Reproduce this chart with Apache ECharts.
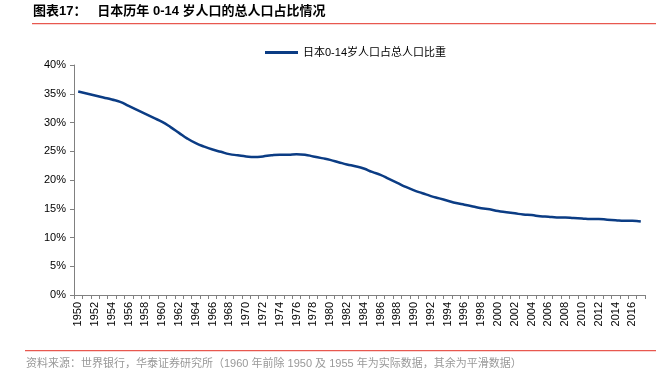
<!DOCTYPE html>
<html>
<head>
<meta charset="utf-8">
<script src="https://cdn.jsdelivr.net/npm/echarts@6/dist/echarts.min.js"></script>
<style>
  html, body { margin: 0; padding: 0; background: #fff; }
  #chart { width: 661px; height: 378px; }
</style>
</head>
<body>
<div id="chart"></div>
<script>
// 年份 1950-2017
var years = []
for (var y = 1950; y <= 2017; y++) years.push(String(y))

// 日本0-14岁人口占总人口比重 (%)
var shareValues = [
  35.4, 35.05, 34.7, 34.35, 34.0, 33.6, 32.9, 32.2, 31.5, 30.8,
  30.1, 29.2, 28.2, 27.2, 26.4, 25.8, 25.3, 24.9, 24.5, 24.3,
  24.1, 24.0, 24.1, 24.3, 24.4, 24.4, 24.5, 24.4, 24.1, 23.8,
  23.5, 23.1, 22.7, 22.4, 22.0, 21.4, 20.9, 20.2, 19.5, 18.8,
  18.2, 17.7, 17.2, 16.8, 16.4, 16.0, 15.7, 15.4, 15.1, 14.9,
  14.6, 14.4, 14.2, 14.0, 13.9, 13.7, 13.6, 13.5, 13.5, 13.4,
  13.3, 13.2, 13.2, 13.1, 13.0, 12.9, 12.9, 12.8
]

var seriesName = '日本0-14岁人口占总人口比重'
var titleText = '图表17：   日本历年 0-14 岁人口的总人口占比情况'
var sourceText = '资料来源：世界银行，华泰证券研究所（1960 年前除 1950 及 1955 年为实际数据，其余为平滑数据）'

var chart = echarts.init(document.getElementById('chart'))
chart.setOption({
  animation: false,
  textStyle: { fontFamily: 'Liberation Sans, Arial, Noto Sans CJK SC, sans-serif' },
  grid: { left: 74, right: 16, top: 65, bottom: 83 },
  legend: {
    top: 42,
    left: 260,
    itemWidth: 33,
    itemHeight: 3,
    itemGap: 4,
    icon: 'rect',
    textStyle: { fontSize: 11, color: '#000' },
    data: [seriesName]
  },
  xAxis: {
    type: 'category',
    data: years,
    boundaryGap: true,
    axisLine: { lineStyle: { color: '#808080', width: 1 } },
    axisTick: { show: true, interval: 0, length: 4, lineStyle: { color: '#808080' } },
    axisLabel: { interval: 1, rotate: 90, fontSize: 11, color: '#000', margin: 7 }
  },
  yAxis: {
    type: 'value',
    min: 0,
    max: 40,
    interval: 5,
    splitLine: { show: false },
    axisLine: { show: true, lineStyle: { color: '#808080', width: 1 } },
    axisTick: { show: true, length: 4, lineStyle: { color: '#808080' } },
    axisLabel: { formatter: '{value}%', fontSize: 11, color: '#000', margin: 8 }
  },
  series: [{
    name: seriesName,
    type: 'line',
    data: shareValues,
    smooth: true,
    symbol: 'none',
    lineStyle: { color: '#0B3C84', width: 2.5 },
    itemStyle: { color: '#0B3C84' }
  }],
  graphic: [
    {
      type: 'text', left: 33, top: 5,
      style: { text: titleText, fontSize: 13, fontWeight: 'bold', fill: '#000',
        fontFamily: 'Liberation Sans, Noto Sans CJK SC, sans-serif' }
    },
    {
      type: 'rect', shape: { x: 32, y: 23, width: 624, height: 1.2 },
      style: { fill: '#E8584F' }
    },
    {
      type: 'rect', shape: { x: 25, y: 350, width: 631, height: 1.2 },
      style: { fill: '#E8584F' }
    },
    {
      type: 'text', left: 26, top: 358,
      style: { text: sourceText, fontSize: 11, fill: '#999',
        fontFamily: 'Liberation Sans, Noto Sans CJK SC, sans-serif' }
    }
  ]
})
</script>
</body>
</html>
